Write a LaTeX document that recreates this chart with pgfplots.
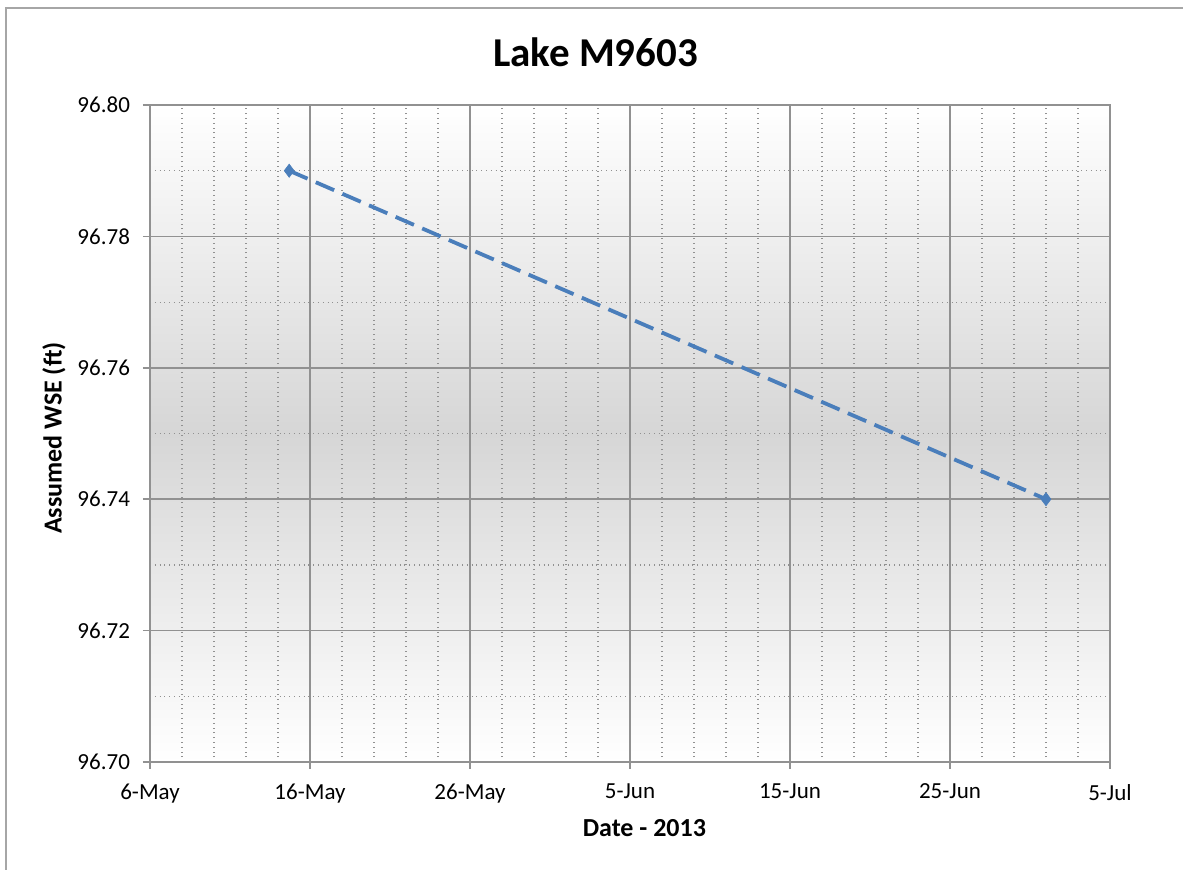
\documentclass[border=0pt]{standalone}
\usepackage{fontspec}
\setmainfont{Carlito}
\usepackage{pgfplots}
\pgfplotsset{compat=1.18}
\definecolor{lineblue}{RGB}{74,126,187}
\definecolor{gridgray}{RGB}{145,145,145}
\definecolor{bgmid}{RGB}{214,214,214}
\begin{document}
\begin{tikzpicture}
\useasboundingbox (-75pt,-53.5pt) rectangle (516.5pt,381pt);
\draw[gray!70, line width=1pt] (-72pt,-54pt) -- (-72pt,377.5pt);
\draw[gray!70, line width=1pt] (-72.5pt,377pt) -- (520pt,377pt);
\begin{axis}[
  at={(0,0)}, anchor=south west,
  scale only axis, width=480pt, height=328.5pt,
  xmin=0, xmax=60, ymin=96.70, ymax=96.80,
  xtick={0,10,20,30,40,50,60},
  xticklabels={6-May,16-May,26-May,5-Jun,15-Jun,25-Jun,5-Jul},
  ytick={96.70,96.72,96.74,96.76,96.78,96.80},
  minor xtick={2,4,6,8,12,14,16,18,22,24,26,28,32,34,36,38,42,44,46,48,52,54,56,58},
  minor ytick={96.71,96.73,96.75,96.77,96.79},
  grid=both,
  major grid style={gridgray, line width=0.8pt},
  minor grid style={gridgray, dotted, line width=0.6pt},
  axis line style={gridgray, line width=1pt},
  tick style={gridgray, line width=0.8pt},
  tick align=outside, major tick length=3.5pt, minor tick length=0pt,
  tick pos=left,
  yticklabel style={/pgf/number format/fixed, /pgf/number format/fixed zerofill, /pgf/number format/precision=2, /pgf/number format/assume math mode=true, font=\fontsize{11.5}{13}\selectfont, xshift=-3pt},
  xticklabel style={font=\fontsize{11.5}{13}\selectfont, yshift=-4pt},
  axis background/.style={shade, top color=white, bottom color=white, middle color=bgmid},
  xlabel={Date - 2013},
  ylabel={Assumed WSE (ft)},
  xlabel style={font=\bfseries\fontsize{13}{15}\selectfont, at={(axis description cs:0.515,-0.1005)}, anchor=center},
  ylabel style={font=\bfseries\fontsize{13}{15}\selectfont, at={(axis description cs:-0.1,0.493)}, anchor=center},
]
\addplot[lineblue, line width=1.9pt, dash pattern=on 10pt off 4.5pt, mark=diamond*, mark size=3.3pt, mark options={solid, fill=lineblue, line width=0.3pt}] coordinates {(8.7,96.79) (56,96.74)};
\end{axis}
\node[font=\bfseries\fontsize{20.5}{24}\selectfont] at (222.75pt,355pt) {Lake M9603};
\end{tikzpicture}
\end{document}
